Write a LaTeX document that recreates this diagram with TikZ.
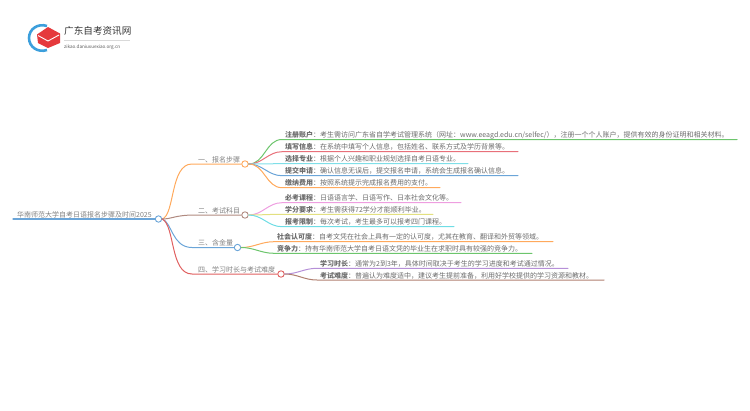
\documentclass[tikz,border=0pt]{standalone}
\usepackage{fontspec}
\setmainfont{Noto Sans CJK SC}
\begin{document}
\begin{tikzpicture}[x=1pt,y=-1pt,
  leaf/.style={anchor=base west,inner sep=0pt,font=\fontsize{7}{8}\selectfont,text=black!58},
  blabel/.style={anchor=base west,inner sep=0pt,font=\fontsize{7}{8}\selectfont,text=black!50},
  hub/.style={circle,draw,fill=white,line width=0.9pt,minimum size=6.4pt,inner sep=0pt},
  conn/.style={line width=1pt,line cap=round}]
\useasboundingbox (0,0) rectangle (750,410);
\definecolor{cgreen}{HTML}{6CC56C}\definecolor{cred}{HTML}{E8707A}\definecolor{ccyan}{HTML}{7FDFE8}
\definecolor{cblue}{HTML}{6BA5D8}\definecolor{corange}{HTML}{FFA95C}\definecolor{cbrown}{HTML}{B08A80}
\definecolor{cpink}{HTML}{EE9EE0}\definecolor{cyellow}{HTML}{E3E080}\definecolor{ccyanb}{HTML}{6FDDE5}
\definecolor{cpurple}{HTML}{B690D8}\definecolor{cbrownb}{HTML}{B07F70}\definecolor{credb}{HTML}{E06060}
\definecolor{logoblue}{HTML}{3C9FDC}\definecolor{logored}{HTML}{E5393C}
% logo
\draw[logoblue,line width=2.6pt] (47,26) .. controls (38,23) and (29,29) .. (29,38) .. controls (29,47) and (38,53) .. (47,50);
\fill[logored] (37,34.5) -- (48,27) -- (60,33.5) -- (60,43) -- (48,48) -- (38,43) -- cycle;
\draw[white,line width=0.9pt] (38,35.5) -- (48,41) -- (59,35);
\node[anchor=base west,inner sep=0pt,font=\fontsize{9.6}{10}\selectfont,text=black!80] (logot) at (64,34.5) {广东自考资讯网};
\draw[black!15,line width=0.4pt] (64,40) -- (130,40);
\node[anchor=base west,inner sep=0pt,font=\fontsize{4.6}{5}\selectfont,text=black!65] (logou) at (64,48.5) {zikao.daniuxuexiao.org.cn};
% hubs
\node[hub,draw=cblue] (root) at (158.5,219) {};
\node[hub,draw=corange] (b1) at (245,164) {};
\node[hub,draw=cbrown] (b2) at (245,215) {};
\node[hub,draw=cblue] (b3) at (237.5,247.5) {};
\node[hub,draw=credb] (b4) at (281,274) {};
% branch labels
\node[blabel] (rt) at (17,217) {华南师范大学自考日语报名步骤及时间2025};
\node[blabel] (t1) at (198,162.5) {一、报名步骤};
\node[blabel] (t2) at (198,213) {二、考试科目};
\node[blabel] (t3) at (198,245.5) {三、含金量};
\node[blabel] (t4) at (198,272) {四、学习时长与考试难度};
% leaves
\node[leaf] (l1) at (285,137.5) {\textbf{注册账户}：考生需访问广东省自学考试管理系统（网址：www.eeagd.edu.cn/selfec/），注册一个个人账户，提供有效的身份证明和相关材料。};
\node[leaf] (l2) at (285,149.5) {\textbf{填写信息}：在系统中填写个人信息，包括姓名、联系方式及学历背景等。};
\node[leaf] (l3) at (285,161.5) {\textbf{选择专业}：根据个人兴趣和职业规划选择自考日语专业。};
\node[leaf] (l4) at (285,173.5) {\textbf{提交申请}：确认信息无误后，提交报名申请，系统会生成报名确认信息。};
\node[leaf] (l5) at (285,185.5) {\textbf{缴纳费用}：按照系统提示完成报名费用的支付。};
\node[leaf] (m1) at (285,200.5) {\textbf{必考课程}：日语语言学、日语写作、日本社会文化等。};
\node[leaf] (m2) at (285,212) {\textbf{学分要求}：考生需获得72学分才能顺利毕业。};
\node[leaf] (m3) at (285,224.5) {\textbf{报考限制}：每次考试，考生最多可以报考四门课程。};
\node[leaf] (n1) at (277,239.5) {\textbf{社会认可度}：自考文凭在社会上具有一定的认可度，尤其在教育、翻译和外贸等领域。};
\node[leaf] (n2) at (277,251) {\textbf{竞争力}：持有华南师范大学自考日语文凭的毕业生在求职时具有较强的竞争力。};
\node[leaf] (p1) at (320,266) {\textbf{学习时长}：通常为2到3年，具体时间取决于考生的学习进度和考试通过情况。};
\node[leaf] (p2) at (320,278) {\textbf{考试难度}：普遍认为难度适中，建议考生提前准备，利用好学校提供的学习资源和教材。};
% line ends
\coordinate (r0) at (13,219);
\coordinate (a1) at (192,164); \coordinate (a2) at (195,215); \coordinate (a3) at (192,247.5); \coordinate (a4) at (192,274);
\foreach \n/\xa/\xb/\yy in {e1/282/737/139.5,e2/282/518/151.7,e3/282/468/163.7,e4/282/518/175.7,e5/282/440/187.7,f1/282/461/202.7,f2/282/433/214.3,f3/282/454/226.7,g1/274/553/241.7,g2/274/532/253.3,h1/317/568/268.3,h2/317/604/280}{
  \coordinate (\n s) at (\xa,\yy); \coordinate (\n e) at (\xb,\yy);}
\global\let\dummy\relax
% connectors
\draw[conn,cblue,line width=1.1pt] (r0) -- (root);
\draw[conn,corange] (root.east) .. controls (175,215) and (170,164) .. (a1) -- (b1);
\draw[conn,cbrown] (root.east) .. controls (172,219) and (175,215) .. (a2) -- (b2);
\draw[conn,cblue] (root.east) .. controls (172,222) and (172,247.5) .. (a3) -- (b3);
\draw[conn,credb] (root.east) .. controls (175,225) and (170,274) .. (a4) -- (b4);
\draw[conn,cgreen] (b1.east) to[out=0,in=180] (282,139.5) -- (737,139.5);
\draw[conn,cred] (b1.east) to[out=0,in=180] (282,151.7) -- (518,151.7);
\draw[conn,ccyan] (b1.east) to[out=0,in=180] (282,163.7) -- (468,163.7);
\draw[conn,cblue] (b1.east) to[out=0,in=180] (282,175.7) -- (518,175.7);
\draw[conn,corange] (b1.east) to[out=0,in=180] (282,187.7) -- (440,187.7);
\draw[conn,cpink] (b2.east) to[out=0,in=180] (282,202.7) -- (461,202.7);
\draw[conn,cyellow] (b2.east) to[out=0,in=180] (282,214.3) -- (433,214.3);
\draw[conn,ccyanb] (b2.east) to[out=0,in=180] (282,226.7) -- (454,226.7);
\draw[conn,corange] (b3.east) to[out=0,in=180] (274,241.7) -- (553,241.7);
\draw[conn,cgreen] (b3.east) to[out=0,in=180] (274,253.3) -- (532,253.3);
\draw[conn,cpurple] (b4.east) to[out=0,in=180] (317,268.3) -- (568,268.3);
\draw[conn,cbrownb] (b4.east) to[out=0,in=180] (317,280) -- (604,280);
\end{tikzpicture}
\end{document}
